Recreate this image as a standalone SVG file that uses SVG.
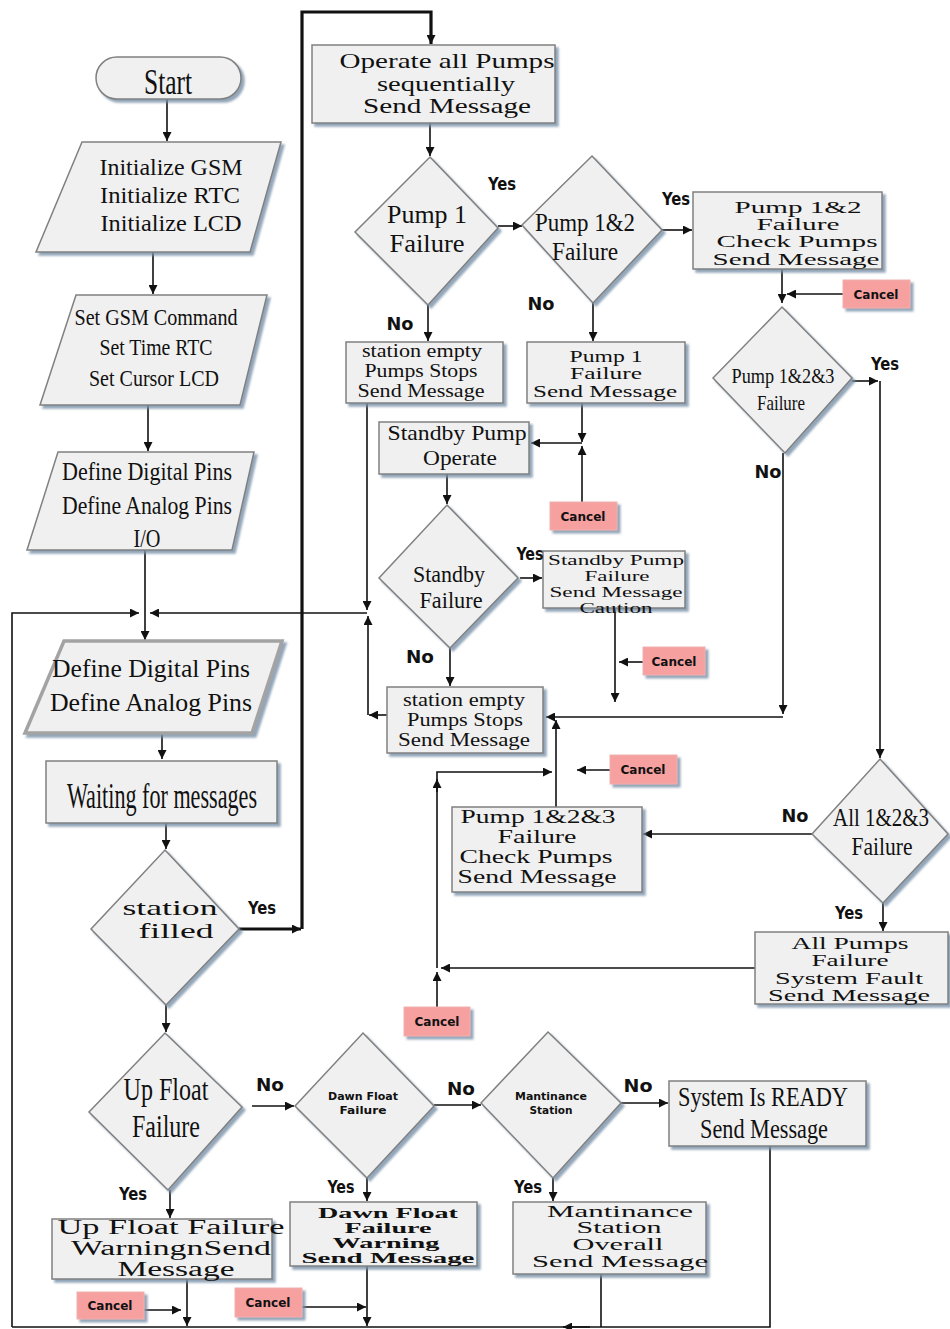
<svg xmlns="http://www.w3.org/2000/svg" width="950" height="1329" viewBox="0 0 950 1329">
<defs>
<filter id="sh" x="-10%" y="-10%" width="130%" height="140%"><feDropShadow dx="3" dy="3" stdDeviation="1.2" flood-color="#7890a8" flood-opacity="0.8"/></filter>
<marker id="ar" viewBox="0 0 10 10" refX="10" refY="5" markerWidth="11" markerHeight="9" markerUnits="userSpaceOnUse" orient="auto"><path d="M0,0 L10,5 L0,10 z" fill="#111"/></marker>
</defs>
<style>
.nd{fill:#f0f0f0;stroke:#808080;stroke-width:1.5;filter:url(#sh)}
.cx{fill:#f6a0a0;stroke:#f0b0b0;stroke-width:1;filter:url(#sh)}
.t{font-family:"Liberation Serif","Times New Roman",serif;fill:#111;text-anchor:middle}
.tb{font-family:"Liberation Serif","Times New Roman",serif;fill:#111;text-anchor:middle;font-weight:bold}
.lb{font-family:"DejaVu Sans Condensed","DejaVu Sans",sans-serif;font-weight:bold;fill:#111;text-anchor:middle;font-size:17px}
.cl{font-family:"DejaVu Sans Condensed","DejaVu Sans",sans-serif;font-weight:bold;fill:#111;text-anchor:middle;font-size:13px}
.ln{fill:none;stroke:#111;stroke-width:1.6}
.th{fill:none;stroke:#111;stroke-width:3.2}
.a{marker-end:url(#ar)}
</style>
<g id="connectors">
<path class="ln a" d="M167,99 V141"/>
<path class="ln a" d="M153,252 V294"/>
<path class="ln a" d="M148,405 V451"/>
<path class="ln" d="M145,550 V613"/>
<path class="ln a" d="M145,613 V640"/>
<path class="ln a" d="M12,1327 V613 H139"/>
<path class="ln a" d="M367,613 H150"/>
<path class="ln a" d="M367,403 V610"/>
<path class="ln a" d="M387,715 H369"/>
<path class="ln a" d="M368,715 V616"/>
<path class="th a" d="M239,929 H301"/>
<path class="th a" d="M302,929 V12 H431 V44"/>
<path class="ln a" d="M430,123 V156"/>
<path class="ln a" d="M498,226 H522"/>
<path class="ln a" d="M662,230 H692"/>
<path class="ln a" d="M428,305 V341"/>
<path class="ln a" d="M593,303 V341"/>
<path class="ln a" d="M582,403 V442"/>
<path class="ln a" d="M582,502 V446"/>
<path class="ln a" d="M582,443 H531"/>
<path class="ln a" d="M447,474 V504"/>
<path class="ln a" d="M520,578 H542"/>
<path class="ln a" d="M615,608 V702"/>
<path class="ln a" d="M643,662 H619"/>
<path class="ln a" d="M450,648 V686"/>
<path class="ln a" d="M783,453 V714"/>
<path class="ln a" d="M783,717 H546"/>
<path class="ln a" d="M556,807 V720"/>
<path class="ln a" d="M782,269 V303"/>
<path class="ln a" d="M843,294 H787"/>
<path class="ln a" d="M852,381 H878"/>
<path class="ln a" d="M880,381 V758"/>
<path class="ln a" d="M610,770 H577"/>
<path class="ln a" d="M437,1007 V972"/>
<path class="ln a" d="M755,968 H441"/>
<path class="ln a" d="M437,968 V772 H552"/>
<path class="ln a" d="M437,792 V779"/>
<path class="ln a" d="M812,834 H643"/>
<path class="ln a" d="M883,903 V931"/>
<path class="ln a" d="M162,733 V759"/>
<path class="ln a" d="M166,823 V849"/>
<path class="ln a" d="M166,1005 V1032"/>
<path class="ln a" d="M252,1106 H294"/>
<path class="ln a" d="M434,1105 H481"/>
<path class="ln a" d="M621,1103 H668"/>
<path class="ln a" d="M170,1190 V1218"/>
<path class="ln a" d="M367,1178 V1201"/>
<path class="ln a" d="M553,1178 V1201"/>
<path class="ln a" d="M187,1279 V1326"/>
<path class="ln a" d="M144,1310 H181"/>
<path class="ln a" d="M367,1266 V1326"/>
<path class="ln a" d="M302,1307 H366"/>
<path class="ln" d="M601,1274 V1327"/>
<path class="ln" d="M770,1146 V1327 H12"/>
<path class="ln a" d="M590,1327 H563"/>
</g>
<g id="start"><rect class="nd" x="96" y="57" width="145" height="42" rx="21"/><text class="t" x="168" y="94" font-size="36" textLength="48" lengthAdjust="spacingAndGlyphs">Start</text></g>
<g id="init"><polygon class="nd" points="82,142 281,142 250,252 36,252"/>
<text class="t" font-size="24"><tspan x="171" y="175" textLength="143" lengthAdjust="spacingAndGlyphs">Initialize GSM</tspan><tspan x="170" y="203" textLength="140" lengthAdjust="spacingAndGlyphs">Initialize RTC</tspan><tspan x="171" y="231" textLength="141" lengthAdjust="spacingAndGlyphs">Initialize LCD</tspan></text></g>
<g id="set"><polygon class="nd" points="76,295 267,295 240,405 40,405"/>
<text class="t" font-size="23"><tspan x="156" y="325" textLength="163" lengthAdjust="spacingAndGlyphs">Set GSM Command</tspan><tspan x="156" y="355" textLength="113" lengthAdjust="spacingAndGlyphs">Set Time RTC</tspan><tspan x="154" y="386" textLength="130" lengthAdjust="spacingAndGlyphs">Set Cursor LCD</tspan></text></g>
<g id="define1"><polygon class="nd" points="58,452 254,452 232,550 27,550"/>
<text class="t" font-size="25"><tspan x="147" y="480" textLength="170" lengthAdjust="spacingAndGlyphs">Define Digital Pins</tspan><tspan x="147" y="514" textLength="170" lengthAdjust="spacingAndGlyphs">Define Analog Pins</tspan><tspan x="147" y="547" textLength="27" lengthAdjust="spacingAndGlyphs">I/O</tspan></text></g>
<g id="define2"><polygon class="nd" points="64,641 282,641 252,733 25,733" style="stroke:#a3a3a3;stroke-width:3.5"/>
<text class="t" font-size="26"><tspan x="151" y="677" textLength="198" lengthAdjust="spacingAndGlyphs">Define Digital Pins</tspan><tspan x="151" y="711" textLength="202" lengthAdjust="spacingAndGlyphs">Define Analog Pins</tspan></text></g>
<g id="waiting"><rect class="nd" x="46" y="761" width="231" height="62"/><text class="t" x="162" y="808" font-size="36" textLength="190" lengthAdjust="spacingAndGlyphs">Waiting for messages</text></g>
<g id="filled"><polygon class="nd" points="165,850 239,929 166,1005 91,929"/>
<text class="t" font-size="21"><tspan x="170" y="915" textLength="95" lengthAdjust="spacingAndGlyphs">station</tspan><tspan x="176" y="938" textLength="75" lengthAdjust="spacingAndGlyphs">filled</tspan></text></g>
<g id="upfloat"><polygon class="nd" points="165,1033 242,1107 168,1190 89,1112"/>
<text class="t" font-size="32"><tspan x="166" y="1100" textLength="85" lengthAdjust="spacingAndGlyphs">Up Float</tspan><tspan x="166" y="1137" textLength="68" lengthAdjust="spacingAndGlyphs">Failure</tspan></text></g>
<g id="upbox"><rect class="nd" x="52" y="1219" width="220" height="60"/>
<text class="t" font-size="20"><tspan x="171" y="1234" textLength="227" lengthAdjust="spacingAndGlyphs">Up Float Failure</tspan><tspan x="171" y="1255" textLength="200" lengthAdjust="spacingAndGlyphs">WarningnSend</tspan><tspan x="176" y="1276" textLength="117" lengthAdjust="spacingAndGlyphs">Message</tspan></text></g>
<g id="dawn"><polygon class="nd" points="363,1033 434,1106 367,1178 295,1106"/>
<text class="cl" style="font-size:11px"><tspan x="363" y="1100" textLength="70" lengthAdjust="spacingAndGlyphs">Dawn Float</tspan><tspan x="363" y="1114" textLength="47" lengthAdjust="spacingAndGlyphs">Failure</tspan></text></g>
<g id="dawnbox"><rect class="nd" x="290" y="1202" width="187" height="64"/>
<text class="tb" font-size="15"><tspan x="388" y="1218" textLength="140" lengthAdjust="spacingAndGlyphs">Dawn Float</tspan><tspan x="388" y="1233" textLength="87" lengthAdjust="spacingAndGlyphs">Failure</tspan><tspan x="386" y="1248" textLength="107" lengthAdjust="spacingAndGlyphs">Warning</tspan><tspan x="388" y="1263" textLength="173" lengthAdjust="spacingAndGlyphs">Send Message</tspan></text></g>
<g id="mant"><polygon class="nd" points="548,1032 621,1103 553,1178 481,1103"/>
<text class="cl" style="font-size:11px"><tspan x="551" y="1100" textLength="72" lengthAdjust="spacingAndGlyphs">Mantinance</tspan><tspan x="551" y="1114" textLength="43" lengthAdjust="spacingAndGlyphs">Station</tspan></text></g>
<g id="mantbox"><rect class="nd" x="513" y="1202" width="193" height="72"/>
<text class="t" font-size="16"><tspan x="620" y="1217" textLength="146" lengthAdjust="spacingAndGlyphs">Mantinance</tspan><tspan x="619" y="1233" textLength="85" lengthAdjust="spacingAndGlyphs">Station</tspan><tspan x="618" y="1250" textLength="91" lengthAdjust="spacingAndGlyphs">Overall</tspan><tspan x="620" y="1267" textLength="176" lengthAdjust="spacingAndGlyphs">Send Message</tspan></text></g>
<g id="ready"><rect class="nd" x="669" y="1081" width="197" height="65"/>
<text class="t" font-size="28"><tspan x="763" y="1106" textLength="170" lengthAdjust="spacingAndGlyphs">System Is READY</tspan><tspan x="764" y="1138" textLength="128" lengthAdjust="spacingAndGlyphs">Send Message</tspan></text></g>
<g id="operate"><rect class="nd" x="312" y="45" width="243" height="78"/>
<text class="t" font-size="21"><tspan x="447" y="68" textLength="215" lengthAdjust="spacingAndGlyphs">Operate all Pumps</tspan><tspan x="446" y="91" textLength="138" lengthAdjust="spacingAndGlyphs">sequentially</tspan><tspan x="447" y="113" textLength="168" lengthAdjust="spacingAndGlyphs">Send Message</tspan></text></g>
<g id="pump1"><polygon class="nd" points="430,157 498,228 428,305 355,232"/>
<text class="t" font-size="26"><tspan x="427" y="223" textLength="80" lengthAdjust="spacingAndGlyphs">Pump 1</tspan><tspan x="427" y="252" textLength="75" lengthAdjust="spacingAndGlyphs">Failure</tspan></text></g>
<g id="pump12"><polygon class="nd" points="592,156 662,230 593,303 522,225"/>
<text class="t" font-size="26"><tspan x="585" y="231" textLength="100" lengthAdjust="spacingAndGlyphs">Pump 1&amp;2</tspan><tspan x="585" y="260" textLength="66" lengthAdjust="spacingAndGlyphs">Failure</tspan></text></g>
<g id="p12box"><rect class="nd" x="693" y="192" width="189" height="77"/>
<text class="t" font-size="16"><tspan x="798" y="213" textLength="127" lengthAdjust="spacingAndGlyphs">Pump 1&amp;2</tspan><tspan x="798" y="230" textLength="83" lengthAdjust="spacingAndGlyphs">Failure</tspan><tspan x="797" y="247" textLength="161" lengthAdjust="spacingAndGlyphs">Check Pumps</tspan><tspan x="796" y="265" textLength="167" lengthAdjust="spacingAndGlyphs">Send Message</tspan></text></g>
<g id="empty1"><rect class="nd" x="346" y="342" width="157" height="61"/>
<text class="t" font-size="18"><tspan x="422" y="357" textLength="120" lengthAdjust="spacingAndGlyphs">station empty</tspan><tspan x="421" y="377" textLength="113" lengthAdjust="spacingAndGlyphs">Pumps Stops</tspan><tspan x="421" y="397" textLength="127" lengthAdjust="spacingAndGlyphs">Send Message</tspan></text></g>
<g id="p1box"><rect class="nd" x="527" y="342" width="158" height="61"/>
<text class="t" font-size="17"><tspan x="606" y="362" textLength="73" lengthAdjust="spacingAndGlyphs">Pump 1</tspan><tspan x="606" y="379" textLength="72" lengthAdjust="spacingAndGlyphs">Failure</tspan><tspan x="605" y="397" textLength="144" lengthAdjust="spacingAndGlyphs">Send Message</tspan></text></g>
<g id="standbyop"><rect class="nd" x="379" y="422" width="150" height="52"/>
<text class="t" font-size="22"><tspan x="457" y="440" textLength="139" lengthAdjust="spacingAndGlyphs">Standby Pump</tspan><tspan x="460" y="465" textLength="74" lengthAdjust="spacingAndGlyphs">Operate</tspan></text></g>
<g id="standbyfail"><polygon class="nd" points="447,505 518,578 450,648 379,578"/>
<text class="t" font-size="24"><tspan x="449" y="582" textLength="72" lengthAdjust="spacingAndGlyphs">Standby</tspan><tspan x="451" y="608" textLength="63" lengthAdjust="spacingAndGlyphs">Failure</tspan></text></g>
<g id="sbbox"><rect class="nd" x="543" y="551" width="142" height="57"/>
<text class="t" font-size="14"><tspan x="616" y="565" textLength="136" lengthAdjust="spacingAndGlyphs">Standby Pump</tspan><tspan x="617" y="581" textLength="65" lengthAdjust="spacingAndGlyphs">Failure</tspan><tspan x="616" y="597" textLength="133" lengthAdjust="spacingAndGlyphs">Send Message</tspan><tspan x="616" y="613" textLength="73" lengthAdjust="spacingAndGlyphs">Caution</tspan></text></g>
<g id="empty2"><rect class="nd" x="387" y="687" width="156" height="66"/>
<text class="t" font-size="18"><tspan x="464" y="706" textLength="122" lengthAdjust="spacingAndGlyphs">station empty</tspan><tspan x="465" y="726" textLength="116" lengthAdjust="spacingAndGlyphs">Pumps Stops</tspan><tspan x="464" y="746" textLength="132" lengthAdjust="spacingAndGlyphs">Send Message</tspan></text></g>
<g id="p123"><polygon class="nd" points="782,307 852,378 785,453 713,378"/>
<text class="t" font-size="22"><tspan x="783" y="383" textLength="103" lengthAdjust="spacingAndGlyphs">Pump 1&amp;2&amp;3</tspan><tspan x="781" y="410" textLength="48" lengthAdjust="spacingAndGlyphs">Failure</tspan></text></g>
<g id="p123box"><rect class="nd" x="452" y="807" width="190" height="85"/>
<text class="t" font-size="19"><tspan x="538" y="823" textLength="155" lengthAdjust="spacingAndGlyphs">Pump 1&amp;2&amp;3</tspan><tspan x="537" y="843" textLength="79" lengthAdjust="spacingAndGlyphs">Failure</tspan><tspan x="536" y="863" textLength="153" lengthAdjust="spacingAndGlyphs">Check Pumps</tspan><tspan x="537" y="883" textLength="159" lengthAdjust="spacingAndGlyphs">Send Message</tspan></text></g>
<g id="all"><polygon class="nd" points="880,759 948,834 883,903 812,834"/>
<text class="t" font-size="26"><tspan x="881" y="826" textLength="96" lengthAdjust="spacingAndGlyphs">All 1&amp;2&amp;3</tspan><tspan x="882" y="855" textLength="61" lengthAdjust="spacingAndGlyphs">Failure</tspan></text></g>
<g id="allbox"><rect class="nd" x="755" y="932" width="193" height="72"/>
<text class="t" font-size="16"><tspan x="850" y="949" textLength="117" lengthAdjust="spacingAndGlyphs">All Pumps</tspan><tspan x="850" y="966" textLength="77" lengthAdjust="spacingAndGlyphs">Failure</tspan><tspan x="849" y="984" textLength="148" lengthAdjust="spacingAndGlyphs">System Fault</tspan><tspan x="849" y="1001" textLength="162" lengthAdjust="spacingAndGlyphs">Send Message</tspan></text></g>
<g id="cancel1"><rect class="cx" x="843" y="280" width="67" height="28"/><text class="cl" x="876" y="299" textLength="45" lengthAdjust="spacingAndGlyphs">Cancel</text></g>
<g id="cancel2"><rect class="cx" x="550" y="502" width="67" height="28"/><text class="cl" x="583" y="521" textLength="45" lengthAdjust="spacingAndGlyphs">Cancel</text></g>
<g id="cancel3"><rect class="cx" x="643" y="647" width="62" height="28"/><text class="cl" x="674" y="666" textLength="45" lengthAdjust="spacingAndGlyphs">Cancel</text></g>
<g id="cancel4"><rect class="cx" x="610" y="755" width="67" height="29"/><text class="cl" x="643" y="774" textLength="45" lengthAdjust="spacingAndGlyphs">Cancel</text></g>
<g id="cancel5"><rect class="cx" x="404" y="1007" width="66" height="29"/><text class="cl" x="437" y="1026" textLength="45" lengthAdjust="spacingAndGlyphs">Cancel</text></g>
<g id="cancel6"><rect class="cx" x="77" y="1292" width="67" height="27"/><text class="cl" x="110" y="1310" textLength="45" lengthAdjust="spacingAndGlyphs">Cancel</text></g>
<g id="cancel7"><rect class="cx" x="235" y="1288" width="67" height="29"/><text class="cl" x="268" y="1307" textLength="45" lengthAdjust="spacingAndGlyphs">Cancel</text></g>
<g id="labels">
<text class="lb" x="502" y="190" textLength="28" lengthAdjust="spacingAndGlyphs">Yes</text>
<text class="lb" x="676" y="205" textLength="28" lengthAdjust="spacingAndGlyphs">Yes</text>
<text class="lb" x="400" y="330" textLength="27" lengthAdjust="spacingAndGlyphs">No</text>
<text class="lb" x="541" y="310" textLength="27" lengthAdjust="spacingAndGlyphs">No</text>
<text class="lb" x="885" y="370" textLength="28" lengthAdjust="spacingAndGlyphs">Yes</text>
<text class="lb" x="768" y="478" textLength="27" lengthAdjust="spacingAndGlyphs">No</text>
<text class="lb" x="530" y="560" textLength="27" lengthAdjust="spacingAndGlyphs">Yes</text>
<text class="lb" x="420" y="663" textLength="28" lengthAdjust="spacingAndGlyphs">No</text>
<text class="lb" x="795" y="822" textLength="27" lengthAdjust="spacingAndGlyphs">No</text>
<text class="lb" x="849" y="919" textLength="28" lengthAdjust="spacingAndGlyphs">Yes</text>
<text class="lb" x="262" y="914" textLength="28" lengthAdjust="spacingAndGlyphs">Yes</text>
<text class="lb" x="270" y="1091" textLength="28" lengthAdjust="spacingAndGlyphs">No</text>
<text class="lb" x="461" y="1095" textLength="28" lengthAdjust="spacingAndGlyphs">No</text>
<text class="lb" x="638" y="1092" textLength="29" lengthAdjust="spacingAndGlyphs">No</text>
<text class="lb" x="133" y="1200" textLength="28" lengthAdjust="spacingAndGlyphs">Yes</text>
<text class="lb" x="341" y="1193" textLength="27" lengthAdjust="spacingAndGlyphs">Yes</text>
<text class="lb" x="528" y="1193" textLength="28" lengthAdjust="spacingAndGlyphs">Yes</text>
</g>
</svg>
